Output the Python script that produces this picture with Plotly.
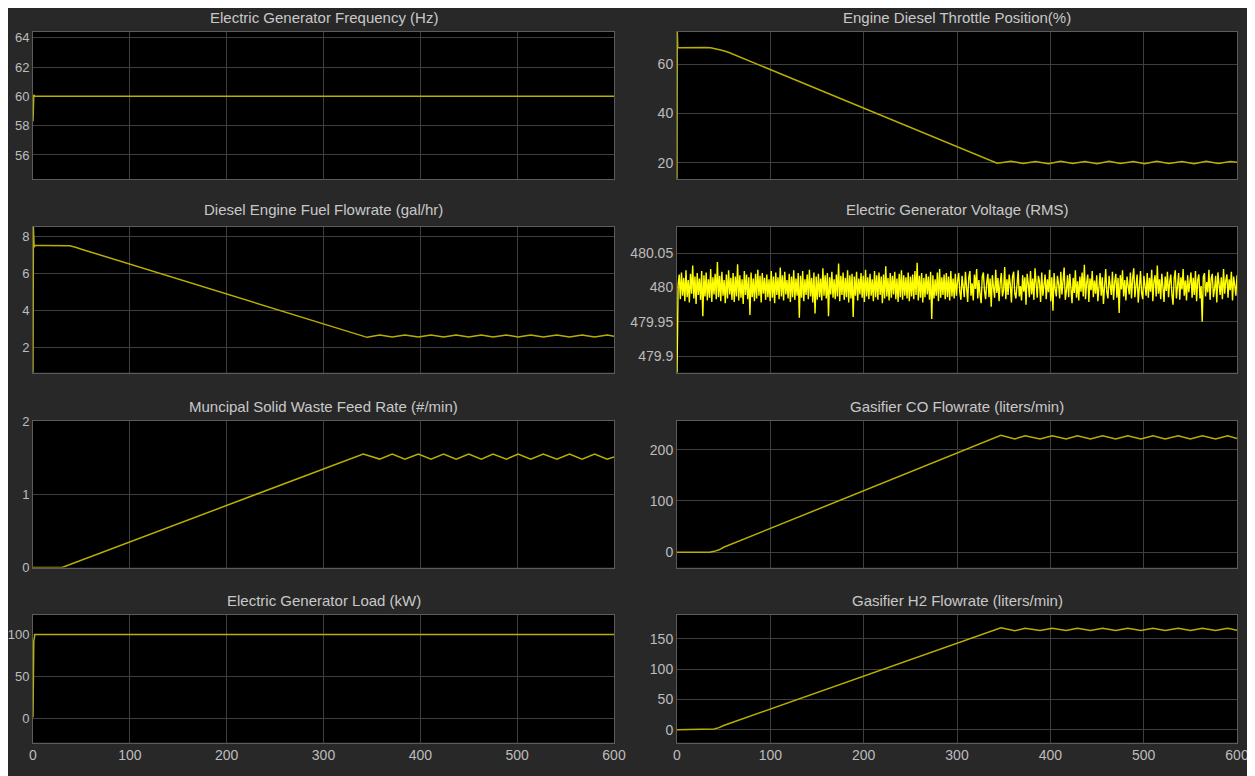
import numpy as np
import plotly.graph_objects as go
from plotly.subplots import make_subplots

# ---------------- data ----------------
freq_t = [0, 0.8, 2, 600]
freq_hz = [58.3, 60.1, 60.0, 60.0]

thr_t = [0, 0.3, 0.8, 1.5, 10, 20, 30, 36, 42, 48, 55, 343, 358, 371, 384, 398, 411, 424,
         437, 450, 463, 475, 489, 501, 514, 527, 541, 554, 567, 580, 593, 600]
thr_pct = [13.5, 73.0, 67.0, 66.6, 66.7, 66.8, 66.7, 66.6, 66.2, 65.6, 64.8, 19.8, 20.6, 19.7,
           20.5, 19.6, 20.6, 19.7, 20.5, 19.6, 20.6, 19.7, 20.5, 19.6, 20.6, 19.7, 20.5, 19.6,
           20.6, 19.7, 20.5, 20.2]

fuel_t = [0, 0.4, 1.2, 2, 10, 20, 30, 38, 44, 50, 345, 358, 371, 384, 398, 411, 424, 437, 450,
          463, 475, 489, 501, 514, 527, 541, 554, 567, 580, 593, 600]
fuel_gph = [0.6, 8.5, 7.4, 7.5, 7.5, 7.5, 7.5, 7.48, 7.4, 7.3, 2.56, 2.68, 2.58, 2.68, 2.58, 2.68,
            2.58, 2.68, 2.58, 2.68, 2.58, 2.68, 2.58, 2.68, 2.58, 2.68, 2.58, 2.68, 2.58, 2.68, 2.62]

msw_t = [0, 30, 341, 358, 371, 384, 398, 411, 424, 437, 450, 463, 475, 489, 501, 514, 527, 541,
         554, 567, 580, 593, 600]
msw_rate = [0, 0, 1.55, 1.48, 1.55, 1.48, 1.55, 1.48, 1.55, 1.48, 1.55, 1.48, 1.55, 1.48, 1.55,
            1.48, 1.55, 1.48, 1.55, 1.48, 1.55, 1.48, 1.51]

co_t = [0, 35, 40, 45, 50, 347, 362, 373, 389, 402, 417, 429, 443, 456, 470, 483, 497, 510, 523,
        537, 550, 563, 577, 590, 600]
co_lpm = [0, 0, 1.5, 4.5, 9.5, 228, 221, 227, 221, 227, 221, 227, 221, 227, 221, 227, 221, 227,
          221, 227, 221, 227, 221, 227, 222]

h2_t = [0, 35, 40, 45, 50, 347, 362, 373, 389, 402, 417, 429, 443, 456, 470, 483, 497, 510, 523,
        537, 550, 563, 577, 590, 600]
h2_lpm = [0, 0, 1.2, 3.5, 7.0, 168.5, 163.6, 167.5, 163.8, 167.5, 163.8, 167.5, 163.8, 167.5,
          163.8, 167.5, 163.8, 167.5, 163.8, 167.5, 163.8, 167.5, 163.8, 167.5, 164.5]

load_t = [0, 0.8, 2, 600]
load_kw = [2, 92, 100, 100]

volt_rms = [
    479.870, 480.004, 480.019, 479.983, 480.022, 479.988, 480.014, 479.980, 480.025, 479.986,
    480.011, 479.978, 480.020, 479.991, 480.032, 479.984, 480.016, 479.976, 480.021, 479.989,
    480.013, 479.982, 480.024, 479.958, 480.018, 479.987, 480.022, 479.981, 480.012, 479.985,
    480.027, 479.979, 480.015, 479.990, 480.020, 479.983, 480.037, 479.986, 480.017, 479.980,
    480.023, 479.988, 480.011, 479.977, 480.019, 479.984, 480.025, 479.990, 480.014, 479.982,
    480.021, 479.979, 480.016, 479.987, 480.034, 479.981, 480.018, 479.985, 480.012, 479.976,
    480.024, 479.989, 480.019, 479.983, 480.015, 479.960, 480.022, 479.986, 480.013, 479.980,
    480.020, 479.984, 480.026, 479.988, 480.017, 479.978, 480.021, 479.991, 480.014, 479.982,
    480.019, 479.986, 480.012, 479.980, 480.024, 479.985, 480.016, 479.977, 480.022, 479.989,
    480.015, 479.983, 480.029, 479.987, 480.018, 479.981, 480.023, 479.990, 480.011, 479.984,
    480.020, 479.979, 480.016, 479.986, 480.025, 479.982, 480.013, 479.988, 480.021, 479.956,
    480.017, 479.985, 480.024, 479.980, 480.012, 479.989, 480.019, 479.983, 480.026, 479.987,
    480.014, 479.978, 480.022, 479.962, 480.016, 479.982, 480.020, 479.986, 480.013, 479.981,
    480.028, 479.988, 480.018, 479.984, 480.021, 479.958, 480.015, 479.990, 480.023, 479.985,
    480.012, 479.983, 480.019, 479.987, 480.035, 479.980, 480.017, 479.989, 480.022, 479.982,
    480.014, 479.986, 480.025, 479.978, 480.018, 479.984, 480.020, 479.957, 480.016, 479.988,
    480.023, 479.981, 480.013, 479.990, 480.021, 479.985, 480.017, 479.979, 480.026, 479.987,
    480.015, 479.983, 480.020, 479.988, 480.012, 479.980, 480.024, 479.986, 480.018, 479.982,
    480.022, 479.989, 480.016, 479.977, 480.019, 479.984, 480.031, 479.987, 480.014, 479.981,
    480.021, 479.985, 480.017, 479.990, 480.023, 479.983, 480.013, 479.979, 480.020, 479.986,
    480.025, 479.982, 480.018, 479.988, 480.015, 479.984, 480.022, 479.980, 480.016, 479.987,
    480.019, 479.983, 480.024, 479.989, 480.036, 479.981, 480.017, 479.985, 480.021, 479.978,
    480.014, 479.986, 480.020, 479.990, 480.016, 479.982, 480.023, 479.954, 480.018, 479.984,
    480.012, 479.988, 480.022, 479.980, 480.027, 479.985, 480.015, 479.989, 480.019, 479.983,
    480.021, 479.986, 480.016, 479.981, 480.024, 479.987, 480.013, 479.984, 480.020, 479.988,
    480.009, 480.021, 479.993, 479.982, 480.017, 480.003, 479.986, 480.023, 479.996, 479.979,
    480.015, 480.024, 479.988, 480.006, 479.981, 480.019, 479.998, 480.027, 479.984, 480.011,
    479.990, 479.977, 480.016, 480.022, 479.995, 479.983, 480.008, 480.020, 479.986, 480.013,
    479.972, 480.018, 480.001, 479.985, 480.026, 479.992, 480.014, 479.980, 480.007, 480.021,
    479.987, 479.996, 480.030, 479.983, 480.012, 479.989, 480.019, 480.004, 479.978, 480.016,
    480.023, 479.991, 479.984, 480.010, 480.025, 479.987, 480.002, 479.981, 480.018, 479.994,
    480.015, 479.975, 480.020, 480.006, 479.986, 480.024, 479.990, 480.013, 479.982, 480.028,
    479.997, 479.985, 480.017, 480.009, 479.979, 480.022, 479.988, 480.003, 480.019, 479.983,
    480.012, 479.993, 480.026, 479.980, 480.015, 479.966, 480.021, 479.998, 479.987, 480.017,
    480.005, 479.984, 480.023, 479.990, 480.011, 480.029, 479.982, 479.995, 480.018, 479.986,
    480.020, 480.001, 479.977, 480.014, 479.992, 480.025, 479.985, 480.009, 479.981, 480.016,
    479.994, 480.022, 479.987, 480.033, 479.983, 480.007, 480.019, 479.979, 480.013, 479.996,
    480.024, 479.986, 480.010, 479.991, 480.018, 479.980, 480.004, 480.021, 479.988, 480.015,
    479.976, 480.012, 480.027, 479.993, 479.984, 480.017, 480.002, 479.989, 480.023, 479.982,
    480.008, 480.020, 479.985, 480.014, 479.963, 480.018, 479.997, 480.025, 479.987, 480.011,
    479.981, 480.016, 480.003, 479.990, 480.022, 479.984, 480.013, 480.028, 479.986, 479.999,
    480.019, 479.978, 480.010, 480.024, 479.992, 479.983, 480.017, 480.005, 479.988, 480.021,
    479.985, 480.014, 479.994, 480.026, 479.980, 480.009, 480.018, 479.987, 480.032, 479.991,
    480.012, 479.983, 480.020, 480.001, 479.979, 480.016, 479.995, 480.023, 479.986, 480.008,
    480.019, 479.990, 479.975, 480.013, 480.025, 479.984, 480.006, 480.021, 479.982, 480.015,
    479.997, 480.027, 479.988, 480.010, 479.981, 480.018, 479.993, 480.004, 480.022, 479.985,
    480.014, 479.989, 480.024, 479.980, 480.011, 480.019, 479.984, 480.002, 479.950, 480.016,
    480.021, 479.987, 480.008, 479.993, 480.026, 479.982, 480.013, 480.020, 479.986, 479.998,
    480.017, 479.978, 480.022, 480.005, 479.989, 480.015, 479.983, 480.027, 479.991, 480.010,
    480.019, 479.985, 480.012, 479.996, 480.023, 479.981, 480.016, 480.003, 479.988, 480.018,
]
volt_t = np.linspace(0, 600, len(volt_rms))  # sample clock

titles = [
    "Electric Generator Frequency (Hz)", "Engine Diesel Throttle Position(%)",
    "Diesel Engine Fuel Flowrate (gal/hr)", "Electric Generator Voltage (RMS)",
    "Muncipal Solid Waste Feed Rate (#/min)", "Gasifier CO Flowrate (liters/min)",
    "Electric Generator Load (kW)", "Gasifier H2 Flowrate (liters/min)",
]
x_ticks = [0, 100, 200, 300, 400, 500, 600]
y_ticks = [
    [56, 58, 60, 62, 64], [20, 40, 60],
    [2, 4, 6, 8], [479.9, 479.95, 480, 480.05],
    [0, 1, 2], [0, 100, 200],
    [0, 50, 100], [0, 50, 100, 150],
]
y_ticktext_volt = ["479.9", "479.95", "480", "480.05"]
y_ranges = [
    [54.36, 64.39], [13.4, 73.0],
    [0.67, 8.52], [479.876, 480.089],
    [0, 2], [-30, 256],
    [-28, 123], [-21, 189.5],
]

# ---------------- figure ----------------
OFF = 8               # page body margin
FW, FH = 1247, 768    # figure size (fills window to the right/bottom edge)
BG = "#282828"
LINE = "#b8b000"
GRID = "#3e3e3e"
FRAME = "#5c5c5c"
TXT = "#bdbdbd"
FONT = "Liberation Sans, Arial, sans-serif"


def px_x(sx):
    return (sx - OFF) / FW


def px_y(sy):
    return 1 - (sy - OFF) / FH


fig = make_subplots(rows=4, cols=2)

series = [
    (freq_t, freq_hz, LINE, 1.5), (thr_t, thr_pct, LINE, 1.5),
    (fuel_t, fuel_gph, LINE, 1.5), (volt_t, volt_rms, "#ffff00", 1.4),
    (msw_t, msw_rate, LINE, 1.5), (co_t, co_lpm, LINE, 1.5),
    (load_t, load_kw, LINE, 1.5), (h2_t, h2_lpm, LINE, 1.5),
]
for i, (tx, vy, col, w) in enumerate(series):
    r, c = i // 2 + 1, i % 2 + 1
    fig.add_trace(go.Scatter(x=tx, y=vy, mode="lines", line=dict(color=col, width=w),
                             showlegend=False, hoverinfo="skip"), row=r, col=c)

x_dom = {1: [px_x(33), px_x(614)], 2: [px_x(677), px_x(1237)]}
row_px = {1: (32, 179), 2: (226.5, 372.5), 3: (421, 567.5), 4: (615, 742.5)}
title_y = {1: 17, 2: 210, 3: 406, 4: 600}

layout_upd = {}
annotations = []
for i in range(8):
    r, c = i // 2 + 1, i % 2 + 1
    n = i + 1
    xa = "xaxis" if n == 1 else f"xaxis{n}"
    ya = "yaxis" if n == 1 else f"yaxis{n}"
    top, bot = row_px[r]
    layout_upd[xa] = dict(
        domain=x_dom[c], range=[0, 600], tickvals=x_ticks, automargin=False,
        showticklabels=(r == 4), showgrid=True, gridcolor=GRID, gridwidth=1,
        zeroline=False, showline=True, mirror=True, linecolor=FRAME, linewidth=1,
        ticks="", tickfont=dict(color=TXT, size=14, family=FONT),
    )
    yd = dict(
        domain=[px_y(bot), px_y(top)], range=y_ranges[i], tickvals=y_ticks[i],
        automargin=False, showgrid=True, gridcolor=GRID, gridwidth=1, zeroline=False,
        showline=True, mirror=True, linecolor=FRAME, linewidth=1, ticks="",
        tickfont=dict(color=TXT, size=(13 if c == 1 else 14), family=FONT),
    )
    if i == 3:
        yd["ticktext"] = y_ticktext_volt
    layout_upd[ya] = yd
    annotations.append(dict(
        text=titles[i], xref="paper", yref="paper",
        x=sum(x_dom[c]) / 2, y=px_y(title_y[r]), xanchor="center", yanchor="middle",
        showarrow=False, font=dict(color="#c8c8c8", size=15, family=FONT),
    ))

fig.update_layout(
    width=FW, height=FH, margin=dict(l=0, r=0, t=0, b=0, autoexpand=False),
    paper_bgcolor=BG, plot_bgcolor="#000000", annotations=annotations,
    **layout_upd,
)

fig.write_html("out.html")
